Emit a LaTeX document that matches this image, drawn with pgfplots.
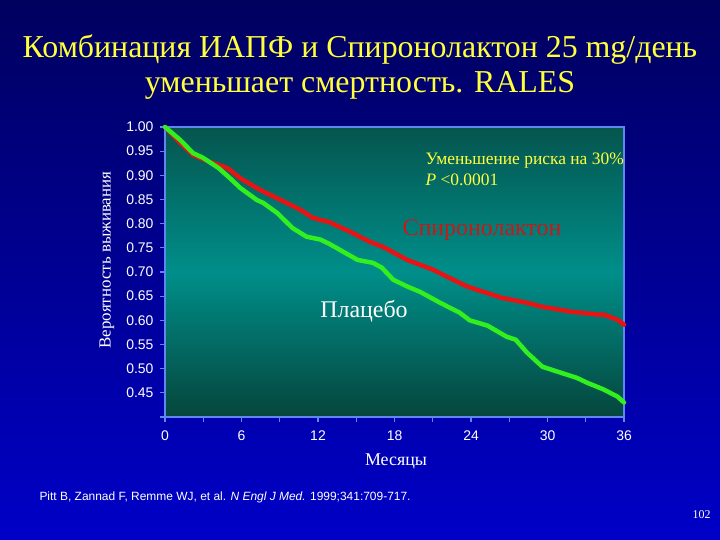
\documentclass[border=0pt]{standalone}
\usepackage{fontspec}
\setmainfont{Liberation Serif}
\newfontfamily\arial{Liberation Sans}
\usepackage{pgfplots}
\pgfplotsset{compat=1.18}
\definecolor{slidetop}{RGB}{0,0,95}
\definecolor{slidebot}{RGB}{0,0,200}
\definecolor{titleyellow}{RGB}{255,255,60}
\definecolor{axisblue}{RGB}{95,135,240}
\definecolor{plottop}{RGB}{5,85,78}
\definecolor{plotmid}{RGB}{0,142,138}
\definecolor{plotbot}{RGB}{5,70,60}
\definecolor{redline}{RGB}{230,20,20}
\definecolor{greenline}{RGB}{50,240,30}
\definecolor{spirored}{RGB}{200,25,25}
\pgfplotstableread{
m s
0 1.000
1.2 0.967
2.2 0.942
3.5 0.928
4.9 0.915
5.9 0.894
7.45 0.870
9.0 0.850
10.6 0.829
11.6 0.812
12.9 0.803
14.7 0.781
16.1 0.762
17.1 0.752
19.0 0.725
21.0 0.705
22.6 0.684
23.7 0.670
24.5 0.663
26.5 0.646
28.1 0.638
29.6 0.628
31.8 0.618
33.9 0.612
34.4 0.612
35.5 0.601
36.0 0.591
}\spiro
\pgfplotstableread{
m s
0 1.000
1.2 0.973
2.2 0.946
3.0 0.936
4.2 0.915
5.1 0.894
5.9 0.874
7.2 0.849
7.7 0.843
8.8 0.822
10.0 0.791
11.1 0.773
12.2 0.767
12.9 0.758
13.7 0.746
15.1 0.725
16.3 0.719
17.0 0.709
17.9 0.684
19.0 0.670
20.0 0.659
21.6 0.636
23.1 0.616
23.9 0.600
25.3 0.589
26.8 0.566
27.5 0.560
28.4 0.533
29.6 0.504
31.0 0.492
32.3 0.481
33.1 0.471
34.4 0.457
35.5 0.442
36.0 0.430
}\placebo
\begin{document}
\begin{tikzpicture}[x=1bp,y=1bp]
\shade[top color=slidetop, bottom color=slidebot] (0,0) rectangle (720,540);
\shade[top color=plottop, bottom color=plotbot, middle color=plotmid] (165,123) rectangle (624,413);
\node[align=center, text=titleyellow, font=\fontsize{32}{35}\selectfont] at (360,473)
  {Комбинация ИАПФ и Спиронолактон 25 mg/день\\уменьшает смертность. RALES};
\begin{axis}[
  at={(165bp,123bp)}, anchor=south west, scale only axis,
  width=459bp, height=290bp,
  xmin=0, xmax=36, ymin=0.40, ymax=1.00,
  axis line style={draw=axisblue, line width=1.2pt},
  xtick={0,6,...,36}, minor xtick={3,9,...,33},
  ytick={0.40,0.45,...,1.001},
  yticklabels={,0.45,0.50,0.55,0.60,0.65,0.70,0.75,0.80,0.85,0.90,0.95,1.00},
  xtick pos=bottom, ytick pos=left,
  tick align=outside,
  major tick length=5bp, minor tick length=5bp,
  tick style={draw=axisblue, line width=1.2pt},
  /pgf/number format/assume math mode=true,
  tick label style={font=\arial\fontsize{14}{15}\selectfont, text=white},
  xticklabel style={yshift=-5bp},
  yticklabel style={xshift=-3bp},
  clip=false,
]
\addplot[draw=redline, line width=4.5pt, line join=round, line cap=round] table[x=m, y=s] {\spiro};
\addplot[draw=greenline, line width=4.5pt, line join=round, line cap=round] table[x=m, y=s] {\placebo};
\end{axis}
\node[rotate=90, text=white, font=\fontsize{17}{19}\selectfont] at (107,280) {Вероятность выживания};
\node[text=white, font=\fontsize{18}{20}\selectfont] at (396,79) {Месяцы};
\node[text=white, font=\fontsize{24}{26}\selectfont] at (364,229) {Плацебо};
\node[text=spirored, font=\fontsize{24}{26}\selectfont] at (482,310) {Спиронолактон};
\node[anchor=west, align=left, text=titleyellow, font=\fontsize{17.5}{21}\selectfont] at (422,371)
  {Уменьшение риска на 30\%\\\textit{P} <0.0001};
\node[anchor=west, text=white, font=\arial\fontsize{12}{14}\selectfont] at (36,43)
  {Pitt B, Zannad F, Remme WJ, et al. \textit{N Engl J Med.} 1999;341:709-717.};
\node[anchor=east, text=white, font=\fontsize{12}{14}\selectfont] at (714,25) {102};
\end{tikzpicture}
\end{document}
